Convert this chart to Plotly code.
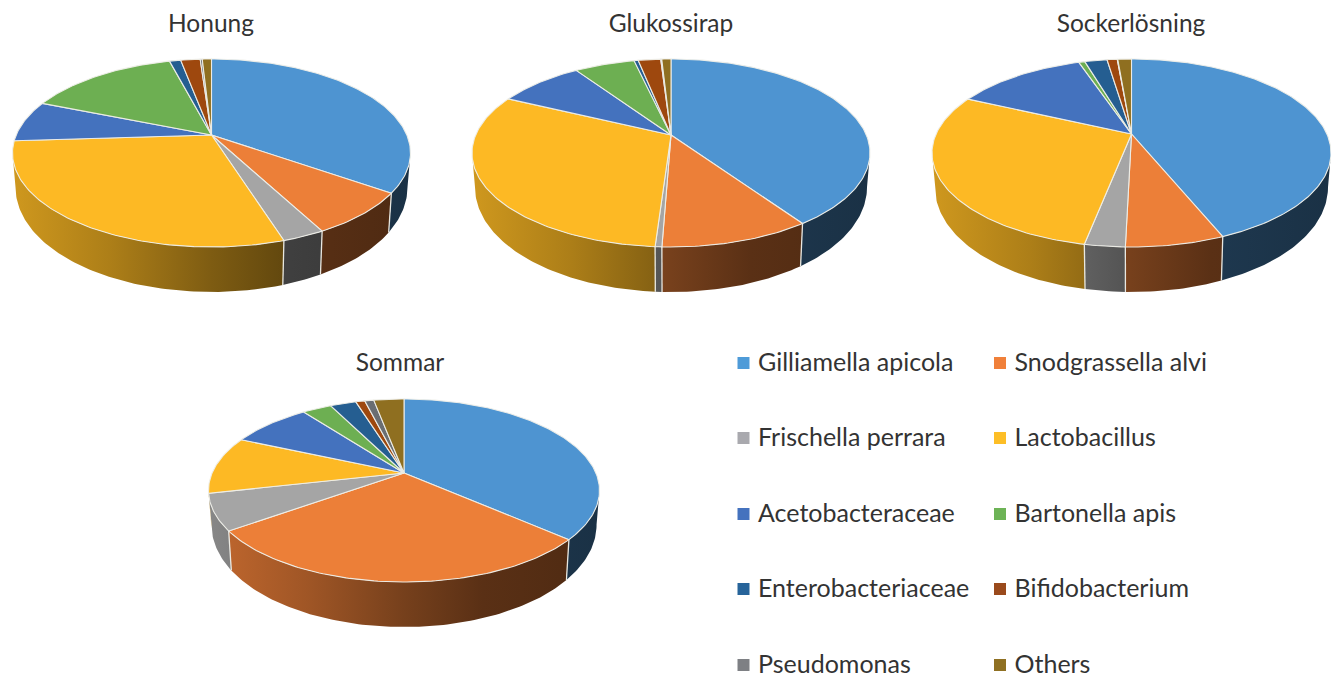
import numpy as np
import plotly.graph_objects as go

# ---------- data (percent, clockwise from 12 o'clock) ----------
categories = ["Gilliamella apicola", "Snodgrassella alvi", "Frischella perrara", "Lactobacillus",
              "Acetobacteraceae", "Bartonella apis", "Enterobacteriaceae", "Bifidobacterium",
              "Pseudomonas", "Others"]
honung        = [34.7, 7.5, 2.9, 28.9, 7.1, 14.8, 1.1, 1.9, 0.2, 0.9]
glukossirap   = [40.4, 10.2, 0.45, 31.05, 8.4, 5.9, 0.4, 2.2, 0.1, 0.9]
sockerlosning = [43.8, 6.6, 2.7, 28.8, 12.9, 0.6, 2.2, 1.0, 0.05, 1.35]
sommar        = [36.5, 28.6, 6.4, 10.2, 8.05, 2.9, 2.6, 0.9, 0.9, 3.0]
titles = ["Honung", "Glukossirap", "Sockerlösning", "Sommar"]

# ---------- style ----------
colors = ["#4E94D1", "#EC7F38", "#A5A5A5", "#FDB924", "#4472BE", "#6DAF52", "#255E91", "#9E480E", "#6A6E72", "#8F6F20"]
legend_colors = ["#4E9BD8", "#F0803A", "#A9A9AE", "#FDBE26", "#4472BE", "#6DB356", "#27649A", "#9A4A1C", "#7E8084", "#8F7022"]
TEXT = "#333333"
FONT = "Lato"
EDGE = "rgba(238,238,232,0.95)"
shade = [(0.0, 0.82), (0.25, 0.68), (0.5, 0.50), (0.7, 0.38), (1.0, 0.33)]

# pie geometry in pixels: apex x, apex y, half width, rise to back rim, drop to front rim
pies = [
    (honung, 211.5, 135, 199, 76, 112),
    (glukossirap, 671, 135, 199, 76, 112),
    (sockerlosning, 1131.5, 134, 199.5, 75, 113),
    (sommar, 404, 473, 195.5, 74, 109),
]
title_pos = [(211, 25.5), (671, 25.5), (1131, 25.5), (400, 364.5)]
BOTTOM_SCALE = 0.985


def rim(theta, rx, top, bottom):
    """Perspective projection of a circle onto the screen, relative to the apex."""
    k = (bottom - top) / (bottom + top)
    a = top * (1 + k)
    b = rx * np.sqrt(1 - k * k)
    u, v = np.sin(theta), np.cos(theta)
    w = 1 + k * v
    return b * u / w, a * v / w, v


def wall_depth(v):
    return 31.5 - 13.5 * v


def rgb(hexcol, f):
    r, g, b = [int(hexcol[i:i + 2], 16) for i in (1, 3, 5)]
    return f"rgb({r * f:.0f},{g * f:.0f},{b * f:.0f})"


fig = go.Figure()
for values, cx, cy, rx, top, bottom in pies:
    edges = np.cumsum([0] + values) / sum(values) * 2 * np.pi
    k = (bottom - top) / (bottom + top)
    front_a = np.arccos(-k)           # silhouette angles of the rim
    front_b = 2 * np.pi - front_a
    # side walls first: only the part of each slice on the front of the silhouette
    for i, val in enumerate(values):
        t0, t1 = max(edges[i], front_a), min(edges[i + 1], front_b)
        if t1 <= t0:
            continue
        n = max(2, int(np.degrees(t1 - t0)) + 2)
        th = np.linspace(t0, t1, n)
        X, Y, v = rim(th, rx, top, bottom)
        xs = np.r_[cx + X, (cx + BOTTOM_SCALE * X)[::-1]]
        ys = np.r_[cy - Y, (cy - Y + wall_depth(v))[::-1]]
        fig.add_trace(go.Scatter(
            x=xs, y=ys, mode="lines", fill="toself", line=dict(width=0), hoverinfo="skip",
            fillgradient=dict(type="horizontal", start=cx - rx, stop=cx + rx,
                              colorscale=[[p, rgb(colors[i], f)] for p, f in shade]),
        ))
    # seams on the visible front wall
    for e in edges[1:-1]:
        X, Y, v = rim(e, rx, top, bottom)
        if v < -0.3:
            fig.add_trace(go.Scatter(
                x=[cx + X, cx + BOTTOM_SCALE * X], y=[cy - Y, cy - Y + wall_depth(v)],
                mode="lines", line=dict(color=EDGE, width=1.3), hoverinfo="skip"))
    # top faces
    for i, val in enumerate(values):
        n = max(2, int(np.degrees(edges[i + 1] - edges[i])) + 2)
        th = np.linspace(edges[i], edges[i + 1], n)
        X, Y, _ = rim(th, rx, top, bottom)
        fig.add_trace(go.Scatter(
            x=np.r_[cx, cx + X, cx], y=np.r_[cy, cy - Y, cy],
            mode="lines", fill="toself", fillcolor=colors[i],
            line=dict(color=EDGE, width=1.1), hoverinfo="skip"))

# titles
fig.add_trace(go.Scatter(
    x=[p[0] for p in title_pos], y=[p[1] for p in title_pos], text=titles, mode="text",
    textposition="middle center", textfont=dict(family=FONT, size=24.5, color=TEXT), hoverinfo="skip"))

# legend: two columns
leg_x = [743.5, 1000]
leg_y = [363, 438, 514, 589, 665]
for i, name in enumerate(categories):
    lx, ly = leg_x[i % 2], leg_y[i // 2]
    fig.add_trace(go.Scatter(x=[lx], y=[ly], mode="markers", hoverinfo="skip",
                             marker=dict(symbol="square", size=12, color=legend_colors[i], line=dict(width=0))))
    fig.add_trace(go.Scatter(x=[lx + 14.5], y=[ly + 1.5], mode="text", text=[name], textposition="middle right",
                             textfont=dict(family=FONT, size=25, color=TEXT), hoverinfo="skip"))

fig.update_layout(
    width=1331, height=676, showlegend=False, paper_bgcolor="white", plot_bgcolor="white",
    margin=dict(l=0, r=0, t=0, b=0),
    xaxis=dict(range=[0, 1331], visible=False, fixedrange=True),
    yaxis=dict(range=[676, 0], visible=False, fixedrange=True),
)
fig.write_html("out.html", config=dict(displayModeBar=False),
               post_script="document.body.style.margin='0';")
